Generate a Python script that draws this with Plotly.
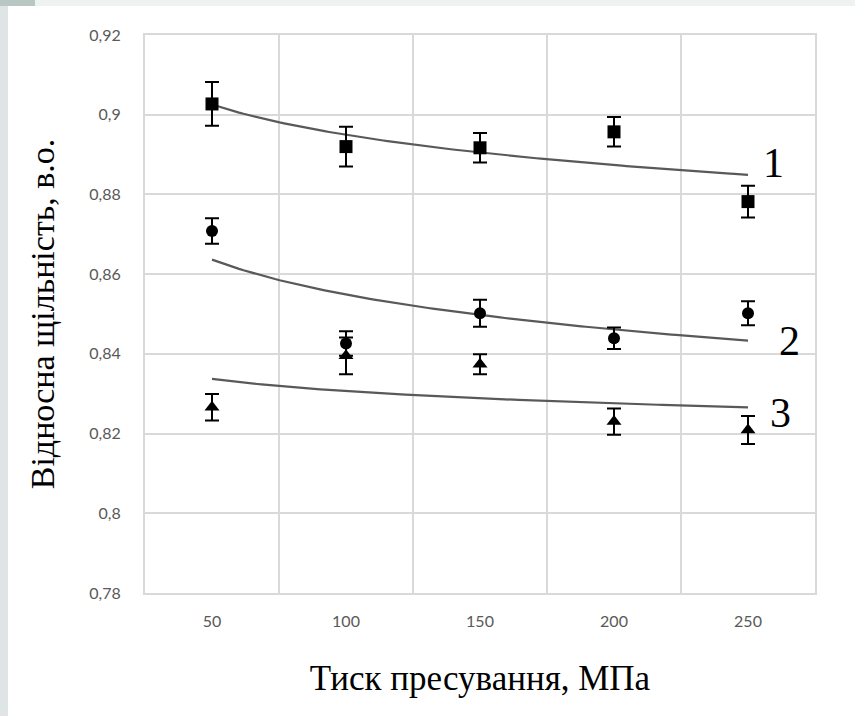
import numpy as np
import plotly.graph_objects as go

# Pressing pressure, MPa
pressure = [50, 100, 150, 200, 250]

# Relative density for three compositions (mean and error half-width)
density_1 = [0.9027, 0.8920, 0.8917, 0.8957, 0.8782]
error_1 = [0.0055, 0.0050, 0.0037, 0.0037, 0.0040]

density_2 = [0.8708, 0.8426, 0.8502, 0.8439, 0.8502]
error_2 = [0.0032, 0.0031, 0.0034, 0.0027, 0.0030]

density_3 = [0.8266, 0.8395, 0.8374, 0.8230, 0.8209]
error_3 = [0.0033, 0.0046, 0.0025, 0.0033, 0.0035]

curve_labels = ["1", "2", "3"]
y_ticks = [0.78, 0.80, 0.82, 0.84, 0.86, 0.88, 0.90, 0.92]
y_tick_text = ["0,78", "0,8", "0,82", "0,84", "0,86", "0,88", "0,9", "0,92"]

series = [
    (density_1, error_1, "square", 13),
    (density_2, error_2, "circle", 12),
    (density_3, error_3, "triangle-up", 13),
]

fig = go.Figure()

x_arr = np.array(pressure, dtype=float)
x_fit = np.linspace(x_arr.min(), x_arr.max(), 120)

for dens, err, symbol, size in series:
    # logarithmic least-squares trend line
    b, a = np.polyfit(np.log(x_arr), np.array(dens), 1)
    fig.add_trace(go.Scatter(
        x=x_fit, y=a + b * np.log(x_fit), mode="lines",
        line=dict(color="#595959", width=2.2), showlegend=False,
        hoverinfo="skip",
    ))
    fig.add_trace(go.Scatter(
        x=pressure, y=dens, mode="markers",
        marker=dict(symbol=symbol, size=size, color="black"),
        error_y=dict(type="data", array=err, visible=True,
                     color="black", thickness=2, width=7),
        showlegend=False,
    ))

# curve numbers placed at the right end of each trend line
label_pos = [(259.5, 0.8879), (265.5, 0.8432), (262.0, 0.8251)]
for text, (lx, ly) in zip(curve_labels, label_pos):
    fig.add_annotation(
        x=lx, y=ly, text=text, showarrow=False,
        font=dict(family="Liberation Serif", size=42, color="black"),
    )

grid_color = "#d9d9d9"
band_edges = [25, 75, 125, 175, 225, 275]

fig.update_layout(
    width=855, height=716,
    margin=dict(l=145, r=40, t=35, b=123),
    paper_bgcolor="white", plot_bgcolor="white",
    xaxis=dict(
        range=[25, 275], tickmode="array", tickvals=pressure,
        ticktext=[str(p) for p in pressure],
        showgrid=False, zeroline=False, ticks="",
        showline=True, linecolor=grid_color, linewidth=2, mirror=True,
        minor=dict(tickmode="array", tickvals=band_edges, showgrid=True,
                   gridcolor=grid_color, gridwidth=1.5, ticks=""),
        tickfont=dict(family="Lato", size=16, color="#595959"),
        ticklabelstandoff=13,
        title=dict(text="Тиск пресування, МПа", standoff=36,
                   font=dict(family="Liberation Serif", size=35,
                             color="black")),
    ),
    yaxis=dict(
        range=[0.78, 0.92], tickmode="array", tickvals=y_ticks,
        ticktext=y_tick_text,
        showgrid=True, gridcolor=grid_color, gridwidth=1.5,
        zeroline=False, ticks="",
        showline=True, linecolor=grid_color, linewidth=2, mirror=True,
        tickfont=dict(family="Lato", size=16, color="#595959"),
        ticklabelstandoff=19,
        title=dict(text="Відносна щільність, в.о.", standoff=24,
                   font=dict(family="Liberation Serif", size=34,
                             color="black")),
    ),
)

# slide frame: thin grey strips along the left and top edges of the page
pw, ph = 670.0, 558.0
fig.add_shape(type="rect", xref="paper", yref="paper",
              x0=-145 / pw, x1=-137 / pw, y0=-123 / ph, y1=(558 + 35) / ph,
              fillcolor="#dfe5e5", line_width=0, layer="below")
fig.add_shape(type="rect", xref="paper", yref="paper",
              x0=-145 / pw, x1=(670 + 40) / pw, y0=(558 + 29) / ph,
              y1=(558 + 35) / ph,
              fillcolor="#eef2f1", line_width=0, layer="below")
fig.add_shape(type="rect", xref="paper", yref="paper",
              x0=-145 / pw, x1=-110 / pw, y0=(558 + 29) / ph,
              y1=(558 + 35) / ph,
              fillcolor="#b9c7c3", line_width=0, layer="below")

fig.write_html("out.html")
